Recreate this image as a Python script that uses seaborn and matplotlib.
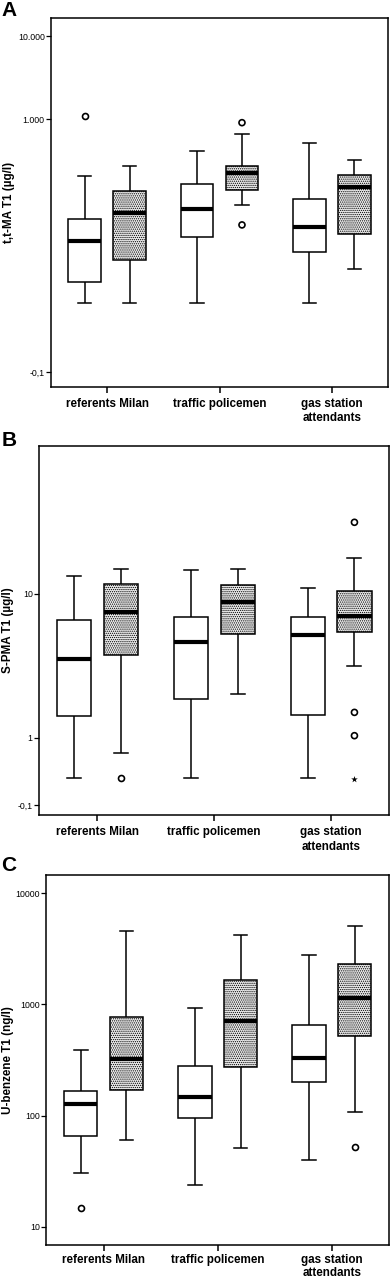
import numpy as np
import pandas as pd
import seaborn as sns
import matplotlib.pyplot as plt

# categories and the two boxes drawn for each of them (open / dotted)
groups = ["referents Milan", "traffic policemen", "gas station\nattendants"]
subgroups = ["open", "dotted"]

# box summaries, box order: ref open, ref dotted, traffic open, traffic dotted, gas open, gas dotted
# A - t,t-MA T1 (ug/l)
a_lo = [-0.0931, -0.0931, -0.0931, 0.0123, -0.0931, -0.0806]
a_q1 = [-0.0867, -0.0752, -0.0536, 0.0652, -0.0693, -0.0492]
a_med = [-0.0577, -0.0110, 0.0000, 0.1647, -0.0391, 0.0791]
a_q3 = [-0.0243, 0.0622, 0.0972, 0.2192, 0.0298, 0.1489]
a_hi = [0.1443, 0.2166, 0.3763, 0.6438, 0.4894, 0.2687]
a_out_box = [0, 3, 3]
a_out_val = [1.101, 0.9047, -0.0352]

# B - S-PMA T1 (ug/l)
b_lo = [0.235, 0.674, 0.235, 2.37, 0.235, 3.68]
b_q1 = [1.596, 4.33, 2.165, 5.82, 1.627, 6.01]
b_med = [4.09, 7.92, 5.25, 9.04, 5.74, 7.50]
b_q3 = [7.08, 11.35, 7.34, 11.29, 7.34, 10.40]
b_hi = [12.57, 13.85, 13.67, 13.80, 10.86, 15.92]
b_out_box = [1, 5, 5, 5]
b_out_val = [0.235, 24.75, 1.70, 1.048]
b_ext_box = [5]
b_ext_val = [0.225]

# C - U-benzene T1 (ng/l)
c_lo = [30.6, 60.3, 23.9, 51.1, 40.1, 107]
c_q1 = [65.9, 171, 94.5, 275, 200, 523]
c_med = [128, 321, 146, 714, 332, 1136]
c_q3 = [166, 766, 277.5, 1669, 649, 2297]
c_hi = [389, 4578, 923, 4190, 2784, 5047]
c_out_box = [0, 5]
c_out_val = [14.6, 51.8]


def box_table(lo, q1, med, q3, hi):
    rows = []
    for i, five in enumerate(zip(lo, q1, med, q3, hi)):
        for v in five:
            rows.append((groups[i // 2], subgroups[i % 2], v))
    return pd.DataFrame(rows, columns=["group", "sub", "value"])


def point_table(idx, vals):
    rows = [(groups[i // 2], subgroups[i % 2], v) for i, v in zip(idx, vals)]
    return pd.DataFrame(rows, columns=["group", "sub", "value"])


def offset_log(c):
    # log10(y + c) axis, like the SPSS plots
    return (lambda y: np.log10(np.maximum(np.asarray(y, float) + c, 1e-12)),
            lambda u: 10 ** np.asarray(u, float) - c)


plt.rcParams["font.family"] = ["Liberation Sans", "DejaVu Sans"]
plt.rcParams["hatch.linewidth"] = 0.6

fig = plt.figure(figsize=(3.9, 12.8), dpi=100)
ax_a = fig.add_axes([0.1308, 0.6979, 0.8641, 0.2878])
ax_b = fig.add_axes([0.1000, 0.3633, 0.8987, 0.2885])
ax_c = fig.add_axes([0.1192, 0.0273, 0.8782, 0.2893])


def draw(ax, box_df, out_df, ext_df=None, xpad=4, spacing=1.3):
    sns.boxplot(data=box_df, x="group", y="value", hue="sub", order=groups,
                hue_order=subgroups, palette={"open": "white", "dotted": "#bdbdbd"},
                saturation=1, linecolor="black", linewidth=1.1, width=0.8, gap=0.27,
                whis=np.inf, showfliers=False, capwidths=0.12,
                medianprops=dict(linewidth=3, solid_capstyle="butt"),
                legend=False, ax=ax)
    for p in ax.patches:
        if p.get_facecolor()[0] < 0.9:
            p.set_facecolor("#ebebeb")
            p.set_hatch("........")
    sns.stripplot(data=out_df, x="group", y="value", hue="sub", order=groups,
                  hue_order=subgroups, palette={"open": "white", "dotted": "white"},
                  dodge=True, jitter=False, size=4.3, linewidth=1.2,
                  edgecolor="black", legend=False, ax=ax, zorder=5)
    if ext_df is not None:
        sns.stripplot(data=ext_df, x="group", y="value", hue="sub", order=groups,
                      hue_order=subgroups, palette={"open": "black", "dotted": "black"},
                      dodge=True, jitter=False, size=5, marker="*", linewidth=0,
                      legend=False, ax=ax, zorder=5)
    ax.set_xlim(-0.5, 2.5)
    ax.set_xlabel("")
    for s in ax.spines.values():
        s.set_linewidth(1.1)
        s.set_color("black")
    ax.tick_params(axis="y", length=3.5, width=0.9, labelsize=6.3, pad=1)
    ax.tick_params(axis="x", length=4, width=1.1, pad=xpad)
    ax.minorticks_off()
    for lab in ax.get_xticklabels():
        lab.set_fontweight("bold")
        lab.set_fontsize(8.4)
        lab.set_linespacing(spacing)


draw(ax_a, box_table(a_lo, a_q1, a_med, a_q3, a_hi), point_table(a_out_box, a_out_val))
ax_a.set_yscale("function", functions=offset_log(0.1013))
ax_a.set_ylim(-0.10041, 16.1)
ax_a.set_yticks([-0.1, 1, 10], ["-0,1", "1.000", "10.000"])
ax_a.minorticks_off()
ax_a.set_ylabel("t,t-MA T1 (µg/l)", fontsize=8.4, fontweight="bold")
ax_a.yaxis.set_label_coords(-0.107, 0.5)

draw(ax_b, box_table(b_lo, b_q1, b_med, b_q3, b_hi), point_table(b_out_box, b_out_val),
     point_table(b_ext_box, b_ext_val))
ax_b.set_yscale("function", functions=offset_log(1.0))
ax_b.set_ylim(-0.2007, 62.9)
ax_b.set_yticks([-0.1, 1, 10], ["-0,1", "1", "10"])
ax_b.minorticks_off()
ax_b.set_ylabel("S-PMA T1 (µg/l)", fontsize=8.4, fontweight="bold")
ax_b.yaxis.set_label_coords(-0.071, 0.5)

draw(ax_c, box_table(c_lo, c_q1, c_med, c_q3, c_hi), point_table(c_out_box, c_out_val),
     xpad=2.5, spacing=1.15)
ax_c.set_yscale("log")
ax_c.set_ylim(6.84, 14700)
ax_c.set_yticks([10, 100, 1000, 10000], ["10", "100", "1000", "10000"])
ax_c.minorticks_off()
ax_c.set_ylabel("U-benzene T1 (ng/l)", fontsize=8.4, fontweight="bold")
ax_c.yaxis.set_label_coords(-0.094, 0.5)

for letter, ypos in [("A", 1 - 1 / 1280), ("B", 1 - 431 / 1280), ("C", 1 - 856 / 1280)]:
    fig.text(0.004, ypos, letter, fontsize=15, fontweight="bold", va="top", ha="left")

fig.savefig("out.png", dpi=100)
